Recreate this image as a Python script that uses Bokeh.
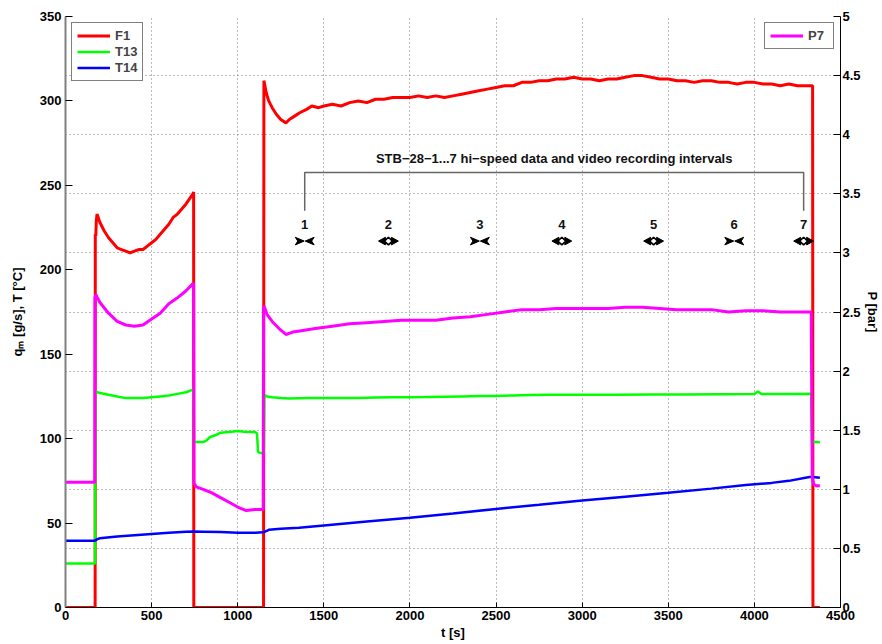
from bokeh.plotting import figure
from bokeh.models import (Range1d, LinearAxis, FixedTicker, Legend, LegendItem,
                          NumeralTickFormatter)
from bokeh.core.properties import value
from bokeh.embed import file_html
from bokeh.resources import INLINE

# ---------------- data ----------------
F1_t = [0, 172, 173, 176, 179, 183, 190, 200, 225, 250, 275, 300, 325, 350, 375, 400, 425, 450,
        475, 500, 525, 550, 575, 600, 625, 650, 675, 700, 720, 740, 744, 745, 1150, 1152, 1156,
        1165, 1180, 1200, 1225, 1250, 1280, 1300, 1330, 1360, 1400, 1430, 1470, 1500, 1550, 1600,
        1650, 1700, 1750, 1800, 1850, 1900, 1950, 2000, 2050, 2100, 2150, 2200, 2250, 2300, 2350,
        2400, 2450, 2500, 2550, 2600, 2650, 2700, 2750, 2800, 2850, 2900, 2950, 3000, 3050, 3100,
        3150, 3200, 3250, 3300, 3350, 3400, 3450, 3500, 3550, 3600, 3650, 3700, 3750, 3800, 3850,
        3900, 3950, 4000, 4050, 4100, 4150, 4200, 4250, 4300, 4330, 4338, 4340, 4380]
F1_v = [0, 0, 221, 220, 229, 233, 231, 228, 223, 219, 216, 213, 212, 211, 210, 211, 212, 212,
        214, 216, 218, 221, 224, 227, 231, 233, 236, 239, 242, 245, 246, 0, 0, 312, 310,
        305, 300, 296, 292, 289, 287, 289, 291, 293, 295, 297, 296, 297, 298, 297,
        299, 300, 299, 301, 301, 302, 302, 302, 303, 302, 303, 302, 303, 304, 305,
        306, 307, 308, 309, 309, 311, 311, 312, 312, 313, 313, 314, 313, 313, 312,
        313, 313, 314, 315, 315, 314, 313, 313, 312, 312, 311, 312, 312, 311, 311,
        310, 311, 311, 310, 310, 309, 310, 309, 309, 309, 309, 0, 0]

T13_t = [0, 172, 173, 176, 200, 250, 300, 350, 400, 450, 500, 550, 600, 650, 700, 740, 744, 746,
         800, 820, 840, 870, 900, 950, 1000, 1050, 1100, 1112, 1118, 1150, 1152, 1155, 1170, 1200,
         1250, 1300, 1400, 1500, 1600, 1700, 1800, 1900, 2000, 2100, 2200, 2300, 2400, 2500, 2600,
         2700, 2800, 2900, 3000, 3200, 3400, 3600, 3800, 4000, 4020, 4040, 4200, 4330, 4335,
         4345, 4380]
T13_v = [26, 26, 128, 128, 127, 126, 125, 124, 124, 124, 124.5, 125, 125.5, 126.5, 127.5, 129, 129, 98,
         98, 99, 101, 102, 103.5, 104, 104.5, 104, 104, 103, 92, 91, 91, 126, 125, 124.5,
         124, 123.8, 124, 124, 124, 124, 124.3, 124.5, 124.5, 124.6, 124.8, 125, 125.2, 125.3, 125.6,
         125.8, 126, 126, 126, 126, 126.1, 126.2, 126.3, 126.4, 128, 126.4, 126.5, 126.6, 98,
         98, 97.8]

T14_t = [0, 170, 185, 200, 300, 400, 500, 600, 700, 745, 800, 900, 1000, 1100, 1150, 1180, 1250,
         1356, 1500, 1750, 2000, 2250, 2500, 2750, 3000, 3250, 3500, 3750, 3950, 4100, 4200, 4320,
         4340, 4380]
T14_v = [39.6, 39.6, 40.5, 41, 42, 42.8, 43.5, 44.2, 44.8, 45, 44.9, 44.7, 44.3, 44.3, 44.5, 46, 46.6,
         47.2, 48.6, 51, 53.1, 55.7, 58.4, 60.8, 63.3, 65.6, 67.9, 70.4, 72.6, 73.8, 75, 77.3,
         77.3, 76.8]

P7_t = [0, 170, 171, 176, 182, 200, 250, 300, 350, 400, 450, 500, 550, 600, 650, 700, 740, 744, 746,
        760, 800, 850, 900, 950, 1000, 1050, 1100, 1148, 1150, 1153, 1170, 1200, 1240, 1280, 1320,
        1360, 1450, 1550, 1650, 1750, 1850, 1950, 2050, 2150, 2250, 2350, 2450, 2550, 2650, 2750,
        2850, 2950, 3050, 3150, 3250, 3350, 3450, 3550, 3650, 3750, 3850, 3950, 4050, 4150, 4250,
        4330, 4336, 4345, 4360, 4380]
P7_v = [1.06, 1.06, 2.62, 2.65, 2.63, 2.58, 2.49, 2.42, 2.39, 2.38, 2.39, 2.44, 2.49, 2.57, 2.62, 2.68,
        2.74, 2.74, 1.05, 1.02, 1.00, 0.97, 0.93, 0.89, 0.85, 0.82, 0.83, 0.83, 2.54, 2.55, 2.48, 2.42,
        2.36, 2.31, 2.33, 2.34, 2.36, 2.38, 2.40, 2.41, 2.42, 2.43, 2.43, 2.43, 2.45, 2.46, 2.48, 2.50,
        2.52, 2.52, 2.53, 2.53, 2.53, 2.53, 2.54, 2.54, 2.53, 2.52, 2.52, 2.52, 2.50, 2.51, 2.51,
        2.50, 2.50, 2.50, 1.10, 1.04, 1.03, 1.03]

rec_t = [1389, 1875, 2406, 2882, 3415, 3883, 4286]
rec_kind = ["in", "out", "in", "out", "out", "in", "out"]
rec_labels = ["1", "2", "3", "4", "5", "6", "7"]
rec_title = "STB\u221228\u22121...7 hi\u2212speed data and video recording intervals"

x_ticks = [0, 500, 1000, 1500, 2000, 2500, 3000, 3500, 4000, 4500]
left_ticks = [0, 50, 100, 150, 200, 250, 300, 350]
right_ticks = [0, 0.5, 1, 1.5, 2, 2.5, 3, 3.5, 4, 4.5, 5]

# annotation levels (left-axis units)
MARK_Y = 217
DIGIT_Y = 227
BR_LOW, BR_HIGH = 235, 257.6
TITLE_Y = 266

FONT = "Liberation Sans"
X0, X1, Y0, Y1 = 0, 4500, 0, 350
FRAME_W, FRAME_H = 780, 591

p = figure(width=882, height=644, output_backend="svg", toolbar_location=None,
           x_range=Range1d(X0, X1), y_range=Range1d(Y0, Y1),
           min_border_left=65, min_border_right=37, min_border_top=16, min_border_bottom=37)
p.extra_y_ranges = {"p": Range1d(0, 5)}
p.outline_line_color = None
p.background_fill_color = "white"
p.border_fill_color = "white"

# grids: vertical at x ticks, horizontal at right-axis ticks
p.xgrid.ticker = FixedTicker(ticks=x_ticks)
p.ygrid.ticker = FixedTicker(ticks=[v * 70 for v in right_ticks])
for g in (p.xgrid[0], p.ygrid[0]):
    g.grid_line_color = "#777777"
    g.grid_line_dash = "1 3"
    g.grid_line_width = 1

def style_axis(ax, line_color="black"):
    ax.major_label_text_font = FONT
    ax.major_label_text_font_style = "bold"
    ax.major_label_text_font_size = "13px"
    ax.major_label_text_color = "black"
    ax.axis_label_text_font = FONT
    ax.axis_label_text_font_style = "bold"
    ax.axis_label_text_font_size = "13px"
    ax.axis_label_text_color = "black"
    ax.axis_line_color = line_color
    ax.major_tick_line_color = "black"
    ax.major_tick_in = 7
    ax.major_tick_out = 0
    ax.minor_tick_in = 0
    ax.minor_tick_out = 0
    ax.major_label_standoff = 4

xa = p.xaxis[0]
xa.ticker = FixedTicker(ticks=x_ticks)
xa.axis_label = "t [s]"
style_axis(xa)
xa.axis_label_standoff = 2
xa.major_label_standoff = 3
xa.major_tick_in = 5

ya = p.yaxis[0]
ya.ticker = FixedTicker(ticks=left_ticks)
ya.axis_label = "q\u2098 [g/s], T [\u00b0C]"
style_axis(ya, "#808080")
ya.axis_line_width = 2
ya.axis_label_standoff = 12

ra = LinearAxis(y_range_name="p", ticker=FixedTicker(ticks=right_ticks),
                formatter=NumeralTickFormatter(format="0.[0]"), axis_label="P [bar]")
style_axis(ra)
ra.major_label_standoff = 2
ra.axis_label_standoff = 1
p.add_layout(ra, "right")

rF1 = p.line(F1_t, F1_v, line_color="#ff0000", line_width=3)
rT13 = p.line(T13_t, T13_v, line_color="#00ff00", line_width=2.5)
rT14 = p.line(T14_t, T14_v, line_color="#0000ff", line_width=2.5)
rP7 = p.line(P7_t, P7_v, line_color="#ff00ff", line_width=3, y_range_name="p")

# bracket + title
t1, t7 = rec_t[0], rec_t[-1]
p.line([t1, t1, t7, t7], [BR_LOW, BR_HIGH, BR_HIGH, BR_LOW], line_color="#666666", line_width=1.5)
p.text(x=[(t1 + t7) / 2], y=[TITLE_Y], text=[rec_title], text_font=value(FONT),
       text_font_style="bold", text_font_size="13px", text_align="center",
       text_baseline="middle", text_color="#111111")
p.text(x=rec_t, y=[DIGIT_Y] * len(rec_t), text=rec_labels, text_font=value(FONT),
       text_font_style="bold", text_font_size="13px", text_align="center",
       text_baseline="middle", text_color="#111111")

# interval markers: arrowheads built in screen-pixel sizes converted to data units
SX = (X1 - X0) / FRAME_W     # seconds per pixel
SY = (Y1 - Y0) / FRAME_H     # units per pixel

def arrowhead(tip_x, direction, length_px=9, half_h_px=3.8, notch_px=2.5):
    # direction +1: points right, -1: points left
    back = tip_x - direction * length_px * SX
    notch = tip_x - direction * (length_px - notch_px) * SX
    xs = [tip_x, back, notch, back]
    ys = [MARK_Y, MARK_Y + half_h_px * SY, MARK_Y, MARK_Y - half_h_px * SY]
    return xs, ys

pxs, pys = [], []
dxs, dys = [], []
for t, k in zip(rec_t, rec_kind):
    if k == "in":
        for d in (+1, -1):
            xs, ys = arrowhead(t - d * 0.5 * SX, d)
            pxs.append(xs)
            pys.append(ys)
    else:
        for d in (+1, -1):
            xs, ys = arrowhead(t + d * 10 * SX, d, length_px=7, half_h_px=3.8, notch_px=0)
            pxs.append(xs)
            pys.append(ys)
        dxs.append([t - 4 * SX, t, t + 4 * SX, t])
        dys.append([MARK_Y, MARK_Y + 3.8 * SY, MARK_Y, MARK_Y - 3.8 * SY])

p.patches(pxs, pys, fill_color="black", line_color="black", line_width=1)
p.patches(dxs, dys, fill_color="white", line_color="black", line_width=1.6)

def make_legend(items, loc):
    lg = Legend(items=items, location=loc)
    lg.label_text_font = FONT
    lg.label_text_font_style = "bold"
    lg.label_text_font_size = "13px"
    lg.border_line_color = "black"
    lg.border_line_width = 1.2
    lg.background_fill_color = "white"
    lg.background_fill_alpha = 1
    lg.glyph_width = 33
    lg.glyph_height = 15
    lg.label_height = 15
    lg.spacing = 1
    lg.padding = 5
    lg.margin = 6
    lg.label_standoff = 5
    return lg

p.add_layout(make_legend([LegendItem(label="F1", renderers=[rF1]),
                          LegendItem(label="T13", renderers=[rT13]),
                          LegendItem(label="T14", renderers=[rT14])], "top_left"))
p.add_layout(make_legend([LegendItem(label="P7", renderers=[rP7])], "top_right"))

html = file_html(p, INLINE)
html = html.replace("<body>", '<body style="overflow:hidden">', 1)
open("out.html", "w").write(html)
